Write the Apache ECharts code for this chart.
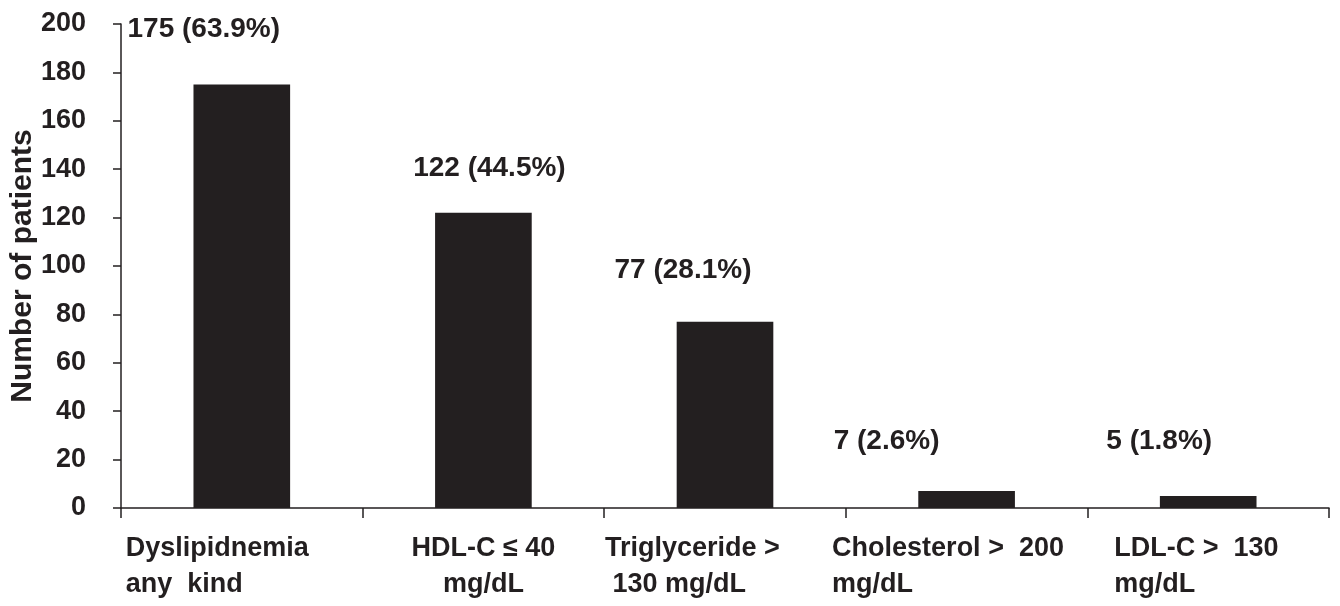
<!DOCTYPE html>
<html>
<head>
<meta charset="utf-8">
<script src="https://cdn.jsdelivr.net/npm/echarts@6/dist/echarts.min.js"></script>
<style>
html,body{margin:0;padding:0;background:#fff;}
#c{width:1340px;height:606px;}
</style>
</head>
<body>
<div id="c"></div>
<script>
const categories = ['Dyslipidnemia\nany  kind', 'HDL-C \u2264 40\nmg/dL', 'Triglyceride >\n 130 mg/dL', 'Cholesterol >  200\nmg/dL', 'LDL-C >  130\nmg/dL'];
const patients = [175, 122, 77, 7, 5];
const percents = ['63.9', '44.5', '28.1', '2.6', '1.8'];
const yTicks = [0, 20, 40, 60, 80, 100, 120, 140, 160, 180, 200];

const INK = '#231f20';
const FONT = '"Liberation Sans", Arial, Helvetica, sans-serif';
const base = { fontFamily: FONT, fontWeight: 'bold', fontSize: 27, color: INK, lineHeight: 36 };

// label placement tweaks (styling, not data)
const labelShift = [[-38, -36], [6, -25], [-42, -32], [-80, -31], [-49, -36]];
const catStyle = ['L0', 'c', 'L2', 'L3', 'L4'];

const chart = echarts.init(document.getElementById('c'), null, { renderer: 'canvas' });
chart.setOption({
  animation: false,
  backgroundColor: '#fff',
  grid: { left: 121, right: 11, top: 24, bottom: 98, containLabel: false, outerBoundsMode: 'none' },
  xAxis: {
    type: 'category',
    data: categories,
    boundaryGap: true,
    axisLine: { lineStyle: { color: INK, width: 1.5 } },
    axisTick: { show: true, length: 10, lineStyle: { color: INK, width: 1.5 } },
    axisLabel: {
      interval: 0,
      margin: 23,
      hideOverlap: false,
      fontFamily: FONT, fontWeight: 'bold', fontSize: 27, color: INK, lineHeight: 36,
      formatter: function (v, i) {
        const s = catStyle[i];
        return v.split('\n').map(function (l) {
          return '{' + s + '|' + l + '}';
        }).join('\n');
      },
      rich: {
        L0: Object.assign({ align: 'left', width: 232 }, base),
        L2: Object.assign({ align: 'left', width: 240 }, base),
        L3: Object.assign({ align: 'left', width: 269 }, base),
        L4: Object.assign({ align: 'left', width: 188 }, base),
        c: Object.assign({}, base)
      }
    },
    splitLine: { show: false }
  },
  yAxis: {
    type: 'value',
    min: yTicks[0],
    max: yTicks[yTicks.length - 1],
    interval: yTicks[1] - yTicks[0],
    name: 'Number of patients',
    nameLocation: 'middle',
    nameGap: 83,
    nameMoveOverlap: false,
    nameTextStyle: { fontFamily: FONT, fontWeight: 'bold', fontSize: 30, color: INK },
    axisLine: { show: true, lineStyle: { color: INK, width: 1.5 } },
    axisTick: { show: true, length: 8, lineStyle: { color: INK, width: 1.5 } },
    axisLabel: { margin: 35, fontFamily: FONT, fontWeight: 'bold', fontSize: 27, color: INK },
    splitLine: { show: false }
  },
  series: [{
    type: 'bar',
    barWidth: '40%',
    itemStyle: { color: INK },
    data: patients.map(function (v, i) {
      return {
        value: v,
        label: { offset: labelShift[i] }
      };
    }),
    label: {
      show: true,
      position: 'top',
      distance: 5,
      fontFamily: FONT, fontWeight: 'bold', fontSize: 28, color: INK,
      formatter: function (p) { return p.value + ' (' + percents[p.dataIndex] + '%)'; }
    }
  }]
});
</script>
</body>
</html>
